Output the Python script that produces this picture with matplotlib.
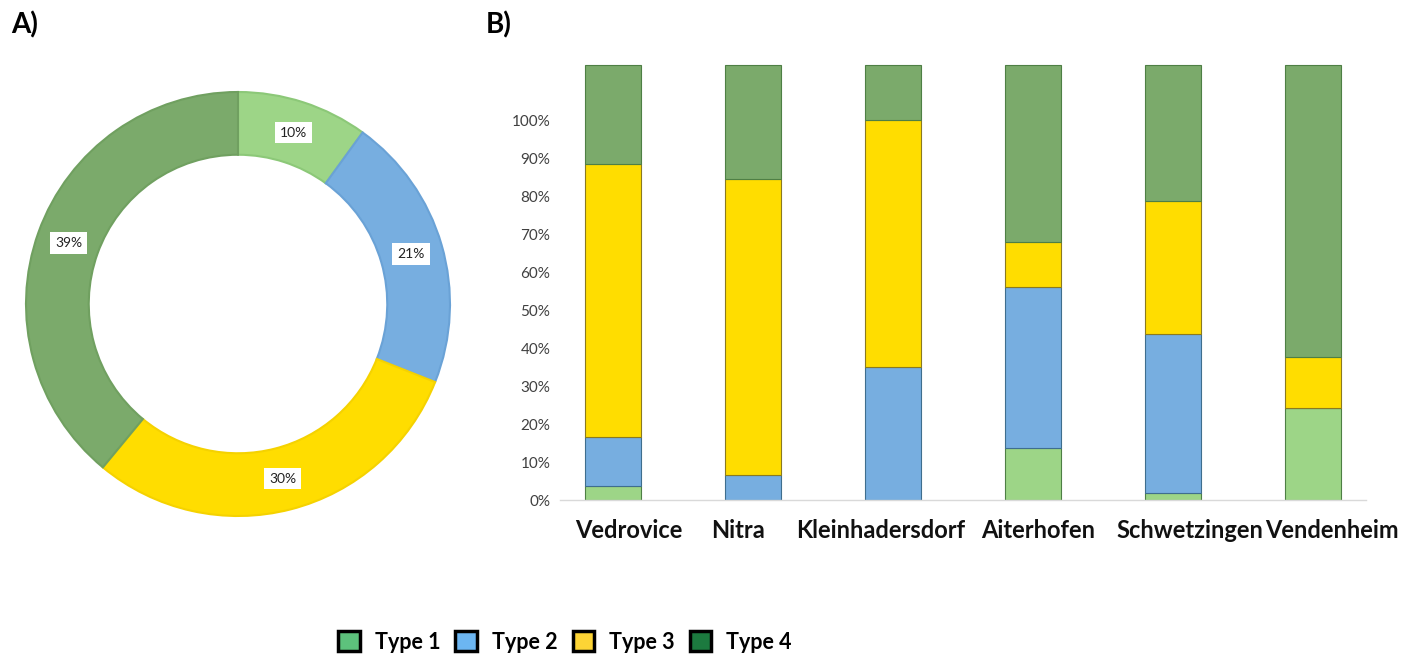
import matplotlib
matplotlib.use("Agg")
import matplotlib.pyplot as plt
from matplotlib.patches import Patch
from matplotlib.transforms import ScaledTranslation
import numpy as np

plt.rcParams['font.family'] = ['Lato', 'DejaVu Sans']

# Donut data
donut_labels = ["Type 1", "Type 2", "Type 3", "Type 4"]
donut_values = [10, 21, 30, 39]

# Stacked bar data (axis units)
sites = ["Vedrovice", "Nitra", "Kleinhadersdorf", "Aiterhofen", "Schwetzingen", "Vendenheim"]
type1 = [3.7, 0.0, 0.0, 13.6, 1.9, 24.1]
type2 = [12.8, 6.7, 35.1, 42.5, 41.7, 0.0]
type3 = [71.9, 77.9, 64.9, 11.9, 35.2, 13.5]
type4 = [26.1, 29.9, 14.5, 46.5, 35.7, 76.9]
yticks = [0, 10, 20, 30, 40, 50, 60, 70, 80, 90, 100]
ytick_labels = [f"{v}%" for v in yticks]

chart_colors = ["#9DD587", "#77AEE0", "#FFDD00", "#7BAA6B"]
edge_colors = ["#8CC878", "#6AA2D6", "#F5D200", "#70A060"]
bar_edges = ["#4E7F45", "#3F6E8E", "#8A7A20", "#4E7F45"]
legend_colors = ["#5DC27C", "#6CB6F2", "#FDD435", "#1C7A3F"]
# horizontal nudges of the category labels (pixels), as placed in the original
label_nudge_px = [16, -15, -12, 5, 17, 19]

W, H = 1422, 657
fig = plt.figure(figsize=(W / 100, H / 100), dpi=100)

# ---- Panel A: donut ----
cx, cy, R = 238, 304, 212
axA = fig.add_axes([(cx - R) / W, (H - cy - R) / H, 2 * R / W, 2 * R / H])
wedges, texts, autotexts = axA.pie(
    donut_values, colors=chart_colors, startangle=90, counterclock=False,
    radius=1.0, wedgeprops=dict(width=0.296, linewidth=1.5),
    autopct=lambda p: f"{p:.0f}%", pctdistance=0.85,
    textprops=dict(fontsize=10, color="#222222"))
for w, ec in zip(wedges, edge_colors):
    w.set_edgecolor(ec)
for t in autotexts:
    t.set_bbox(dict(facecolor="white", edgecolor="none", pad=3.5))
axA.set_xlim(-1, 1)
axA.set_ylim(-1, 1)
axA.set_aspect("equal")
axA.axis("off")

# ---- Panel B: stacked bars ----
left_px, right_px = 560, 1366
bottom_px = 500
top_val = 115
px_per_unit = 3.8
top_px = bottom_px - top_val * px_per_unit
axB = fig.add_axes([left_px / W, (H - bottom_px) / H,
                    (right_px - left_px) / W, (bottom_px - top_px) / H])
x = np.arange(len(sites))
series = [type1, type2, type3, type4]
bottom = np.zeros(len(sites))
for vals, c, ec in zip(series, chart_colors, bar_edges):
    v = np.array(vals)
    axB.bar(x, v, bottom=bottom, width=0.4, color=c, edgecolor=ec, linewidth=0.8)
    bottom += v
axB.set_xlim(-0.38, 5.38)
axB.set_ylim(0, top_val)
axB.set_yticks(yticks)
axB.set_yticklabels(ytick_labels, fontsize=11, color="#404040")
axB.set_xticks(x)
axB.set_xticklabels(sites, fontsize=17, fontweight="bold", color="#111111")
axB.tick_params(axis="both", length=0)
axB.tick_params(axis="y", pad=7)
axB.tick_params(axis="x", pad=14)
for lbl, dx in zip(axB.get_xticklabels(), label_nudge_px):
    lbl.set_transform(lbl.get_transform() + ScaledTranslation(dx / 100, 0, fig.dpi_scale_trans))
for s in ["top", "right", "left"]:
    axB.spines[s].set_visible(False)
axB.spines["bottom"].set_color("#D9D9D9")
axB.spines["bottom"].set_linewidth(1)

# Panel labels
fig.text(11 / W, 1 - 25 / H, "A)", fontsize=20, fontweight="bold", va="center", ha="left")
fig.text(486 / W, 1 - 25 / H, "B)", fontsize=20, fontweight="bold", va="center", ha="left")

# Legend
handles = [Patch(facecolor=c, edgecolor="black", linewidth=2.5) for c in legend_colors]
fig.legend(handles, donut_labels, loc="center", bbox_to_anchor=(565 / W, 1 - 642 / H),
           ncol=4, frameon=False, prop=dict(size=15.5, weight="bold"),
           handlelength=1.0, handleheight=1.0, handletextpad=0.7, columnspacing=0.7)

fig.savefig("out.png", dpi=100, facecolor="white")
